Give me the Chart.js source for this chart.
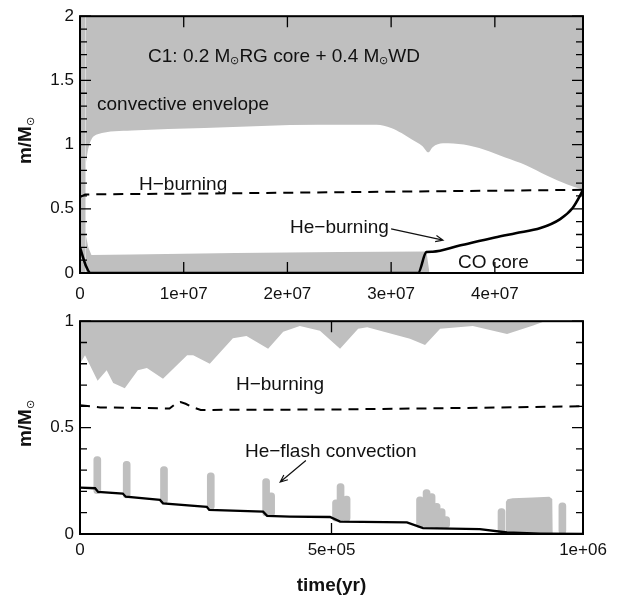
<!DOCTYPE html>
<html>
<head>
<meta charset="utf-8">
<script src="https://cdn.jsdelivr.net/npm/chart.js@4.4.1/dist/chart.umd.min.js"></script>
<style>
  html, body { margin: 0; padding: 0; background: #fff; }
  #wrap { position: relative; width: 623px; height: 609px; }
  canvas { position: absolute; left: 0; }
  #evolution-chart { top: 0; }
  #flash-chart { top: 305px; }
</style>
</head>
<body>
<div id="wrap">
  <canvas id="evolution-chart" width="623" height="305"></canvas>
  <canvas id="flash-chart" width="623" height="304"></canvas>
</div>
<script>
// ---- upper panel: whole evolution (yr, Msun) ----
const envTime = [5.5e5, 8e5, 1.1e6, 1.7e6, 5e6, 1.2e7, 2.3e7, 2.86e7, 3.0e7, 3.1e7, 3.2e7, 3.3e7, 3.36e7, 3.4e7, 3.5e7, 3.7e7, 3.9e7, 4.1e7, 4.3e7, 4.5e7, 4.7e7, 4.85e7];
const envBase = [0.85, 0.97, 1.04, 1.08, 1.11, 1.13, 1.155, 1.155, 1.13, 1.09, 1.04, 0.99, 0.94, 0.98, 1.01, 1.0, 0.96, 0.9, 0.84, 0.76, 0.69, 0.65];
const coreTime = [5.5e5, 8e5, 1.1e6, 5e6, 1.5e7, 2.5e7, 3.34e7, 3.37e7];
const coreTop = [0.3, 0.2, 0.14, 0.145, 0.155, 0.163, 0.168, 0];
const stripTime = [0, 5.5e5];
const stripTop = [2, 2];
const heTime = [0, 3e5, 6e5, 1e6, 3.26e7, 3.34e7, 3.4e7, 3.66e7, 4e7, 4.2e7, 4.44e7, 4.63e7, 4.75e7, 4.82e7, 4.85e7];
const heMass = [0.2, 0.12, 0.05, 0, 0, 0.163, 0.166, 0.214, 0.277, 0.31, 0.35, 0.42, 0.506, 0.6, 0.65];
const hTime = [0, 5e5, 1e7, 2e7, 3e7, 4e7, 4.85e7];
const hMass = [0.59, 0.612, 0.618, 0.625, 0.633, 0.641, 0.648];
const topXTicks = [0, 1e7, 2e7, 3e7, 4e7];
const topXLabels = ['0', '1e+07', '2e+07', '3e+07', '4e+07'];
const topYTicks = [0, 0.5, 1, 1.5, 2];
const topYLabels = ['0', '0.5', '1', '1.5', '2'];

// ---- lower panel: first 1e6 yr, helium flashes ----
const envTime2 = [0, 1e4, 3.5e4, 5.3e4, 6.6e4, 8.9e4, 1.15e5, 1.33e5, 1.65e5, 2.13e5, 2.25e5, 2.58e5, 3.04e5, 3.31e5, 3.74e5, 4.04e5, 4.37e5, 4.77e5, 5.17e5, 5.53e5, 5.71e5, 6.56e5, 6.86e5, 7.16e5, 7.81e5, 8.49e5, 9.01e5, 9.24e5, 1e6];
const envBase2 = [0.80, 0.84, 0.72, 0.77, 0.71, 0.685, 0.77, 0.78, 0.73, 0.84, 0.84, 0.80, 0.92, 0.93, 0.87, 0.95, 0.977, 0.955, 0.87, 0.964, 0.972, 0.918, 0.888, 0.964, 0.977, 0.94, 0.98, 1.0, 1.0];
const hTime2 = [0, 4e4, 1.78e5, 1.9e5, 2.0e5, 2.1e5, 2.25e5, 2.4e5, 5e5, 7.5e5, 1e6];
const hMass2 = [0.605, 0.595, 0.59, 0.612, 0.62, 0.612, 0.595, 0.583, 0.585, 0.592, 0.6];
const coreTime2 = [0, 3.0e4, 3.6e4, 8.5e4, 9.1e4, 1.59e5, 1.65e5, 2.52e5, 2.57e5, 3.64e5, 3.72e5, 4.17e5, 4.97e5, 5.17e5, 6.5e5, 6.82e5, 7.95e5, 8.49e5, 9.15e5, 1e6];
const coreMass2 = [0.218, 0.215, 0.198, 0.19, 0.175, 0.16, 0.144, 0.128, 0.113, 0.105, 0.085, 0.082, 0.08, 0.058, 0.055, 0.028, 0.023, 0.007, 0.002, 0];
const flashTime = [3.44e4, 9.28e4, 1.67e5, 2.60e5, 3.70e5, 3.80e5, 5.09e5, 5.18e5, 5.30e5, 6.76e5, 6.89e5, 6.99e5, 7.09e5, 7.19e5, 7.28e5, 8.38e5, 9.59e5];
const flashBase = [0.19, 0.17, 0.145, 0.115, 0.085, 0.085, 0.06, 0.06, 0.06, 0.03, 0.03, 0.03, 0.03, 0.03, 0.03, 0, 0];
const flashTop = [0.364, 0.342, 0.317, 0.288, 0.26, 0.193, 0.16, 0.237, 0.178, 0.175, 0.209, 0.19, 0.144, 0.12, 0.082, 0.12, 0.147];
const blockTime = [8.46e5, 8.465e5, 8.5e5, 8.6e5, 9.0e5, 9.33e5, 9.39e5, 9.4e5];
const blockTop = [0, 0.15, 0.163, 0.168, 0.172, 0.175, 0.165, 0];
const botXTicks = [0, 5e5, 1e6];
const botXLabels = ['0', '5e+05', '1e+06'];
const botYTicks = [0, 0.5, 1];
const botYLabels = ['0', '0.5', '1'];

const GRAY = 'rgb(191,191,191)';
const FONT = '"Liberation Sans", Arial, Helvetica, sans-serif';
const SUN = '\u2299';

function pts(xs, ys) {
  return xs.map((x, i) => ({ x: x, y: ys[i] }));
}

// text made of runs (for the small sun symbol)
function drawRuns(ctx, x, y, runs, opts) {
  opts = opts || {};
  ctx.save();
  ctx.translate(x, y);
  if (opts.rotate) ctx.rotate(-Math.PI / 2);
  let total = 0;
  runs.forEach(r => { ctx.font = r.font; total += ctx.measureText(r.text).width; });
  let cx = opts.center ? -total / 2 : 0;
  ctx.fillStyle = '#111';
  ctx.textBaseline = 'alphabetic';
  ctx.textAlign = 'left';
  runs.forEach(r => {
    ctx.font = r.font;
    ctx.fillText(r.text, cx, r.dy || 0);
    cx += ctx.measureText(r.text).width;
  });
  ctx.restore();
}

function arrow(ctx, x1, y1, x2, y2) {
  const a = Math.atan2(y2 - y1, x2 - x1);
  const h = 8;
  ctx.beginPath();
  ctx.moveTo(x1, y1);
  ctx.lineTo(x2, y2);
  ctx.moveTo(x2 - h * Math.cos(a - 0.4), y2 - h * Math.sin(a - 0.4));
  ctx.lineTo(x2, y2);
  ctx.lineTo(x2 - h * Math.cos(a + 0.4), y2 - h * Math.sin(a + 0.4));
  ctx.stroke();
}

const txt = size => size + 'px ' + FONT;
const bold = size => 'bold ' + size + 'px ' + FONT;

// frame, inward ticks on all four sides, labels and arrows
function panelDecor(cfg) {
  return {
    id: 'panelDecor',
    afterDraw(chart) {
      const { ctx, chartArea: a, scales: { x, y } } = chart;
      ctx.save();
      ctx.strokeStyle = '#000';
      ctx.lineWidth = 1.3;
      ctx.beginPath();
      cfg.yMinor.forEach(v => {
        const py = y.getPixelForValue(v);
        const len = cfg.yMajor.includes(v) ? 11 : 7;
        ctx.moveTo(a.left, py); ctx.lineTo(a.left + len, py);
        ctx.moveTo(a.right, py); ctx.lineTo(a.right - len, py);
      });
      cfg.xMajor.forEach(v => {
        const px = x.getPixelForValue(v);
        ctx.moveTo(px, a.bottom); ctx.lineTo(px, a.bottom - 11);
        ctx.moveTo(px, a.top); ctx.lineTo(px, a.top + 11);
      });
      ctx.stroke();
      ctx.lineWidth = 2;
      ctx.strokeRect(a.left, a.top, a.right - a.left, a.bottom - a.top);

      cfg.labels.forEach(l => {
        drawRuns(ctx, x.getPixelForValue(l.x), y.getPixelForValue(l.y), l.runs);
      });
      ctx.lineWidth = 1.2;
      ctx.strokeStyle = '#111';
      cfg.arrows.forEach(r => {
        arrow(ctx, x.getPixelForValue(r[0]), y.getPixelForValue(r[1]),
          x.getPixelForValue(r[2]), y.getPixelForValue(r[3]));
      });
      drawRuns(ctx, 31, (a.top + a.bottom) / 2 - 4, [
        { text: 'm/M', font: bold(19) },
        { text: SUN, font: txt(11), dy: 3 }
      ], { rotate: true, center: true });
      ctx.restore();
    }
  };
}

function axes(xMax, xTicks, xLabels, yMax, yTicks, yLabels, xPad, xHeight, xTitle) {
  const tickFont = { family: FONT, size: 17 };
  return {
    x: {
      type: 'linear', min: 0, max: xMax, offset: false,
      grid: { display: false, drawTicks: false },
      border: { display: false },
      ticks: {
        autoSkip: false, maxRotation: 0, color: '#111', font: tickFont, padding: xPad,
        callback: (v, i) => xLabels[i]
      },
      afterBuildTicks: s => { s.ticks = xTicks.map(v => ({ value: v })); },
      afterFit: s => { s.height = xHeight; },
      title: xTitle
    },
    y: {
      type: 'linear', min: 0, max: yMax,
      grid: { display: false, drawTicks: false },
      border: { display: false },
      ticks: {
        autoSkip: false, color: '#111', font: tickFont, padding: 6,
        callback: (v, i) => yLabels[i]
      },
      afterBuildTicks: s => { s.ticks = yTicks.map(v => ({ value: v })); },
      afterFit: s => { s.width = 80; }
    }
  };
}

const common = {
  responsive: false,
  animation: false,
  elements: { point: { radius: 0 }, line: { tension: 0 } },
  plugins: { legend: { display: false }, tooltip: { enabled: false } }
};

const tenths = (max) => Array.from({ length: Math.round(max * 10) + 1 }, (_, i) => i / 10);

new Chart(document.getElementById('evolution-chart'), {
  type: 'line',
  data: {
    datasets: [
      { data: pts(heTime, heMass), borderColor: '#000', borderWidth: 2.6, fill: false, cubicInterpolationMode: 'monotone' },
      { data: pts(hTime, hMass), borderColor: '#000', borderWidth: 2, borderDash: [10, 7], fill: false },
      { data: pts(coreTime, coreTop), borderWidth: 0, backgroundColor: GRAY, fill: 'origin' },
      { data: pts(stripTime, stripTop), borderWidth: 0, backgroundColor: GRAY, fill: 'origin' },
      { data: pts(envTime, envBase), borderWidth: 0, backgroundColor: GRAY, fill: 'end', cubicInterpolationMode: 'monotone' }
    ]
  },
  options: Object.assign({}, common, {
    layout: { padding: { top: 11, right: 40, left: 0, bottom: 0 } },
    scales: axes(4.85e7, topXTicks, topXLabels, 2, topYTicks, topYLabels, 11, 32, { display: false })
  }),
  plugins: [panelDecor({
    yMinor: tenths(2), yMajor: topYTicks, xMajor: topXTicks.slice(1),
    labels: [
      { x: 6.56e6, y: 1.64, runs: [
        { text: 'C1: 0.2 M', font: txt(19) }, { text: SUN, font: txt(11), dy: 2 },
        { text: 'RG core + 0.4 M', font: txt(19) }, { text: SUN, font: txt(11), dy: 2 },
        { text: 'WD', font: txt(19) }] },
      { x: 1.64e6, y: 1.267, runs: [{ text: 'convective envelope', font: txt(19) }] },
      { x: 5.69e6, y: 0.649, runs: [{ text: 'H\u2212burning', font: txt(19) }] },
      { x: 2.025e7, y: 0.31, runs: [{ text: 'He\u2212burning', font: txt(19) }] },
      { x: 3.645e7, y: 0.038, runs: [{ text: 'CO core', font: txt(19) }] }
    ],
    arrows: [[3.0e7, 0.343, 3.5e7, 0.256]]
  })]
});

new Chart(document.getElementById('flash-chart'), {
  type: 'line',
  data: {
    datasets: [
      { data: pts(coreTime2, coreMass2), borderColor: '#000', borderWidth: 2.3, fill: false },
      { data: pts(hTime2, hMass2), borderColor: '#000', borderWidth: 2, borderDash: [10, 7], fill: false },
      {
        type: 'bar',
        data: flashTime.map((t, i) => ({ x: t, y: [flashBase[i], flashTop[i]] })),
        backgroundColor: GRAY, borderWidth: 0, barThickness: 7, grouped: false,
        borderRadius: 3.5, borderSkipped: false
      },
      { data: pts(blockTime, blockTop), borderWidth: 0, backgroundColor: GRAY, fill: 'origin' },
      { data: pts(envTime2, envBase2), borderWidth: 0, backgroundColor: GRAY, fill: 'end' }
    ]
  },
  options: Object.assign({}, common, {
    layout: { padding: { top: 14, right: 40, left: 0, bottom: 0 } },
    scales: axes(1e6, botXTicks, botXLabels, 1, botYTicks, botYLabels, 6, 75, {
      display: true, text: 'time(yr)', color: '#111',
      font: { family: FONT, size: 19, weight: 'bold' },
      padding: { top: 0, bottom: 12 }
    })
  }),
  plugins: [panelDecor({
    yMinor: tenths(1), yMajor: botYTicks, xMajor: botXTicks.slice(1, 2),
    labels: [
      { x: 3.10e5, y: 0.676, runs: [{ text: 'H\u2212burning', font: txt(19) }] },
      { x: 3.28e5, y: 0.364, runs: [{ text: 'He\u2212flash convection', font: txt(19) }] }
    ],
    arrows: [[4.49e5, 0.345, 3.98e5, 0.244]]
  })]
});
</script>
</body>
</html>
